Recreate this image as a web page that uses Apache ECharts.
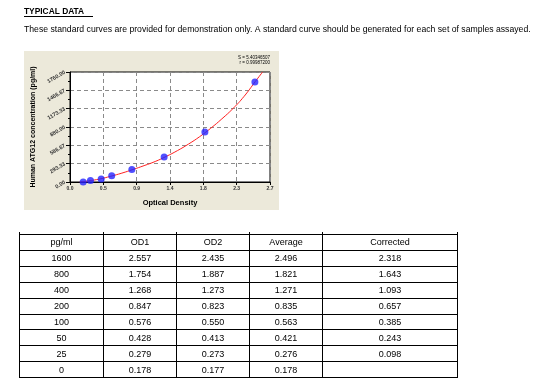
<!DOCTYPE html>
<html>
<head>
<meta charset="utf-8">
<script src="https://cdn.jsdelivr.net/npm/echarts@6/dist/echarts.min.js"></script>
<style>
html,body{margin:0;padding:0;background:#fff;}
#main{width:542px;height:384px;}
</style>
</head>
<body>
<div id="main"></div>
<script>
// ---- data ----
const titleText = 'TYPICAL DATA';
const noteText = 'These standard curves are provided for demonstration only. A standard curve should be generated for each set of samples assayed.';
const yAxisTitle = 'Human ATG12 concentration (pg/ml)';
const xAxisTitle = 'Optical Density';
const fitLines = ['S = 5.40346507', 'r = 0.99987200'];

const tableHeaders = ['pg/ml', 'OD1', 'OD2', 'Average', 'Corrected'];
const concentrations = [1600, 800, 400, 200, 100, 50, 25, 0];
const od1 = [2.557, 1.754, 1.268, 0.847, 0.576, 0.428, 0.279, 0.178];
const od2 = [2.435, 1.887, 1.273, 0.823, 0.550, 0.413, 0.273, 0.177];
const averages = [2.496, 1.821, 1.271, 0.835, 0.563, 0.421, 0.276, 0.178];
const corrected = [2.318, 1.643, 1.093, 0.657, 0.385, 0.243, 0.098, null];

// fitted curve (OD, concentration)
const curveOD = [0.13, 0.25, 0.40, 0.55, 0.70, 0.85, 1.00, 1.15, 1.30, 1.45, 1.60, 1.75, 1.90, 2.05, 2.20, 2.35, 2.50, 2.60];
const curveConc = [0, 18, 48, 92, 142, 200, 262, 328, 410, 502, 607, 725, 860, 1010, 1175, 1370, 1605, 1760];

// axis ranges
const xMin = 0, xMax = 2.7, xStep = 0.45;
const yMin = 0, yMax = 1760, ySteps = 6;

// ---- layout ----
const FONT = '"Liberation Sans", Arial, sans-serif';
const grid = { left: 70, top: 72, width: 200, height: 110 };
const colEdges = [19, 103, 176, 249, 322, 457];
const tableTop = 234, rowH = 15.9;

const chart = echarts.init(document.getElementById('main'), null, { renderer: 'canvas' });

const fmt3 = v => (v === null || v === undefined) ? '' : v.toFixed(3);
const rows = [tableHeaders].concat(concentrations.map((c, i) => [
  String(c), fmt3(od1[i]), fmt3(od2[i]), fmt3(averages[i]), fmt3(corrected[i])
]));

const graphics = [];
// page header
graphics.push({ type: 'text', x: 24, y: 12, scaleX: 0.93, style: { text: titleText, font: 'bold 9px ' + FONT, fill: '#000', verticalAlign: 'middle' } });
graphics.push({ type: 'line', shape: { x1: 24, y1: 16.5, x2: 93, y2: 16.5 }, style: { stroke: '#000', lineWidth: 1 } });
graphics.push({ type: 'text', x: 24, y: 29.5, scaleX: 0.962, style: { text: noteText, font: '9px ' + FONT, fill: '#000', verticalAlign: 'middle' } });
// chart panel background
graphics.push({ type: 'rect', z: -10, shape: { x: 24, y: 51, width: 255, height: 159 }, style: { fill: '#ECE9DA' } });
// fit statistics
fitLines.forEach((t, i) => {
  graphics.push({ type: 'text', x: 270, y: 58 + i * 5, style: { text: t, font: '4.5px ' + FONT, fill: '#000', align: 'right', verticalAlign: 'middle' } });
});
// table
const tableBottom = tableTop + rowH * rows.length;
for (let r = 0; r <= rows.length; r++) {
  const y = Math.round(tableTop + r * rowH) + 0.5;
  graphics.push({ type: 'line', shape: { x1: colEdges[0], y1: y, x2: colEdges[colEdges.length - 1] + 1, y2: y }, style: { stroke: '#000', lineWidth: 1 } });
}
colEdges.forEach(x => {
  graphics.push({ type: 'line', shape: { x1: x + 0.5, y1: tableTop - 2, x2: x + 0.5, y2: Math.round(tableBottom) + 1 }, style: { stroke: '#000', lineWidth: 1 } });
});
rows.forEach((row, r) => {
  row.forEach((txt, c) => {
    graphics.push({
      type: 'text',
      x: (colEdges[c] + colEdges[c + 1]) / 2 + 0.5,
      y: tableTop + r * rowH + rowH / 2 + 1,
      style: { text: txt, font: '9px ' + FONT, fill: '#000', align: 'center', verticalAlign: 'middle' }
    });
  });
});

const option = {
  backgroundColor: '#fff',
  animation: false,
  grid: Object.assign({ show: true, backgroundColor: '#fff', borderColor: '#000', borderWidth: 1 }, grid),
  xAxis: {
    type: 'value', min: xMin, max: xMax, interval: xStep,
    name: xAxisTitle, nameLocation: 'middle', nameGap: 17,
    nameTextStyle: { fontFamily: FONT, fontWeight: 'bold', fontSize: 7.5, color: '#000' },
    axisLine: { show: true, lineStyle: { color: '#000', width: 1 } },
    axisTick: { show: true, inside: false, length: 3, lineStyle: { color: '#000' } },
    axisLabel: { fontFamily: FONT, fontSize: 5, fontWeight: 'bold', color: '#333', margin: 4, formatter: v => v.toFixed(1) },
    splitLine: { show: true, lineStyle: { color: '#8a8a8a', type: [4, 3], width: 1 } }
  },
  yAxis: {
    type: 'value', min: yMin, max: yMax, interval: (yMax - yMin) / ySteps,
    name: yAxisTitle, nameLocation: 'middle', nameGap: 33, nameRotate: 90,
    nameTextStyle: { fontFamily: FONT, fontWeight: 'bold', fontSize: 7, color: '#000' },
    axisLine: { show: true, lineStyle: { color: '#000', width: 1 } },
    axisTick: { show: true, inside: false, length: 4, lineStyle: { color: '#000' } },
    minorTick: { show: true, splitNumber: 2, length: 2, lineStyle: { color: '#000' } },
    axisLabel: { fontFamily: FONT, fontSize: 5.5, fontWeight: 'bold', color: '#333', margin: 5, rotate: 30, formatter: v => v.toFixed(2) },
    splitLine: { show: true, lineStyle: { color: '#8a8a8a', type: [4, 3], width: 1 } }
  },
  series: [
    {
      type: 'line', smooth: true, showSymbol: false, clip: true,
      data: curveOD.map((x, i) => [x, curveConc[i]]),
      lineStyle: { color: '#ff2020', width: 1 }, z: 3
    },
    {
      type: 'scatter', symbol: 'circle', symbolSize: 7,
      data: averages.map((x, i) => [x, concentrations[i]]),
      itemStyle: { color: '#2424ff' }, z: 4
    }
  ],
  graphic: graphics
};
chart.setOption(option);
</script>
</body>
</html>
